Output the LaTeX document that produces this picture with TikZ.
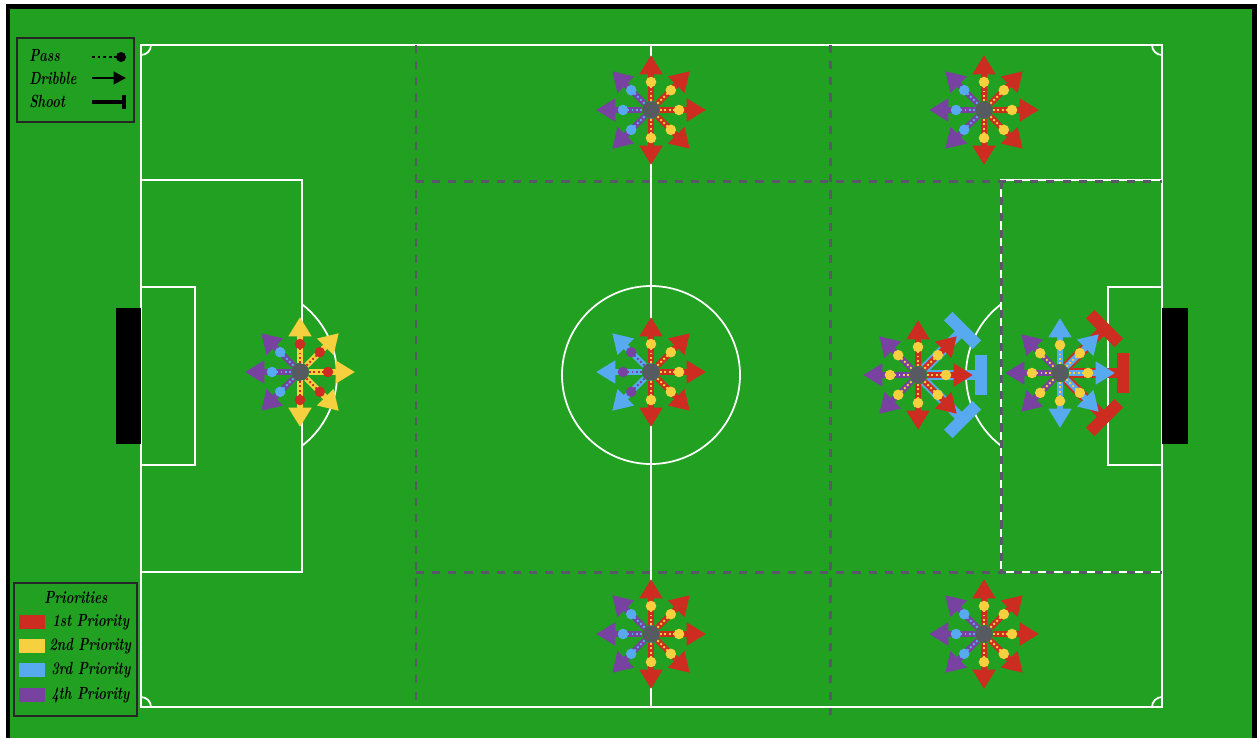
\documentclass[tikz,border=0pt]{standalone}
\usepackage{tikz}
\usetikzlibrary{arrows.meta}
\definecolor{pitch}{RGB}{33,160,33}
\definecolor{prRed}{RGB}{205,45,32}
\definecolor{prYellow}{RGB}{246,208,62}
\definecolor{prBlue}{RGB}{88,170,240}
\definecolor{prPurple}{RGB}{120,66,160}
\definecolor{playerGray}{RGB}{88,90,98}
\definecolor{zoneGray}{RGB}{88,88,104}

\begin{document}
\begin{tikzpicture}[x=0.02cm, y=-0.02cm,
  fieldline/.style={white, line width=1pt},
  zoneline/.style={zoneGray, line width=1.7pt, dash pattern=on 4.6pt off 4.6pt},
  player/.style={circle, fill=playerGray, minimum size=10pt, inner sep=0pt},
  dribble/.style={line width=3.4pt, -{Triangle[length=11pt, width=12.5pt]}},
  pass/.style={line width=1.1pt, dash pattern=on 1.1pt off 1.3pt},
  passdot/.style={circle, minimum size=6pt, inner sep=0pt},
  shoot/.style={line width=5.5pt},
  shootbar/.style={rectangle, minimum width=6.8pt, minimum height=23pt, inner sep=0pt},
  legendbox/.style={draw=black!85, line width=1.4pt},
  legendtext/.style={font=\bfseries\itshape\fontsize{10}{12}\selectfont, inner sep=0pt,
    xscale=0.74, transform shape}]
  % one option of a player: dribble arrow with the pass under it
  \def\playMove#1#2#3#4{%
    \draw[dribble, #3] (#1) -- +(#2:55);
    \draw[pass, #4] (#1) -- +(#2:28) node[passdot, fill=#4] {};
  }
  \def\playShot#1#2#3{%
    \draw[shoot, #3] (#1) -- node[pos=1, sloped, shootbar, fill=#3] {} +(#2:63);
  }

  \useasboundingbox (0,0) rectangle (1257,738);
  \fill[white] (0,0) rectangle (1257,738);
  \fill[black] (6,4) rectangle (1257,738);
  \fill[pitch] (10,9) rectangle (1252,738);

  % pitch markings
  \draw[fieldline] (141,45) rectangle (1162,707);
  \draw[fieldline] (651,45) -- (651,707);
  \draw[fieldline] (651,375) circle (89);
  \draw[fieldline] (141,180) rectangle (302,572);
  \draw[fieldline] (141,287) rectangle (195,465);
  \draw[fieldline] (1001,180) rectangle (1162,572);
  \draw[fieldline] (1108,287) rectangle (1162,465);
  \draw[fieldline] (248,375) ++(-52.6:89) arc[start angle=-52.6, end angle=52.6, radius=89];
  \draw[fieldline] (1055,375) ++(127.4:89) arc[start angle=127.4, end angle=232.6, radius=89];
  \draw[fieldline] (151,45) arc[start angle=0, end angle=90, radius=10];
  \draw[fieldline] (1162,55) arc[start angle=90, end angle=180, radius=10];
  \draw[fieldline] (141,697) arc[start angle=270, end angle=360, radius=10];
  \draw[fieldline] (1152,707) arc[start angle=180, end angle=270, radius=10];
  \fill[black] (116,308) rectangle (141,444);
  \fill[black] (1162,308) rectangle (1188,444);

  % zones
  \draw[zoneline] (416,45) -- (416,707);
  \draw[zoneline] (830,45) -- (830,715);
  \draw[zoneline] (416,181) -- (1162,181);
  \draw[zoneline] (416,572) -- (1162,572);
  \draw[zoneline] (1001,181) -- (1001,572);

  % players
  \node[player] (topMid) at (651,110) {};
  \node[player] (topRight) at (984,110) {};
  \node[player] (botMid) at (651,634) {};
  \node[player] (botRight) at (984,634) {};
  \node[player] (left) at (300,372) {};
  \node[player] (mid) at (651,372) {};
  \node[player] (rightA) at (918,375) {};
  \node[player] (rightB) at (1060,373) {};

  \foreach \p in {topMid, topRight, botMid, botRight} {
    \foreach \a in {270,315,0,45,90} {\playMove{\p}{\a}{prRed}{prYellow}}
    \foreach \a in {135,180,225} {\playMove{\p}{\a}{prPurple}{prBlue}}
  }
  \foreach \a in {270,315,0,45,90} {\playMove{left}{\a}{prYellow}{prRed}}
  \foreach \a in {135,180,225} {\playMove{left}{\a}{prPurple}{prBlue}}
  \foreach \a in {270,315,0,45,90} {\playMove{mid}{\a}{prRed}{prYellow}}
  \foreach \a in {135,180,225} {\playMove{mid}{\a}{prBlue}{prPurple}}

  \foreach \a in {315,0,45} {\playShot{rightA}{\a}{prBlue}}
  \foreach \a in {270,315,0,45,90} {\playMove{rightA}{\a}{prRed}{prYellow}}
  \foreach \a in {135,180,225} {\playMove{rightA}{\a}{prPurple}{prYellow}}
  \foreach \a in {315,0,45} {\playShot{rightB}{\a}{prRed}}
  \foreach \a in {270,315,0,45,90} {\playMove{rightB}{\a}{prBlue}{prYellow}}
  \foreach \a in {135,180,225} {\playMove{rightB}{\a}{prPurple}{prYellow}}

  % legend: actions
  \draw[legendbox] (17,38) rectangle (134,122);
  \node[legendtext, anchor=west] (passTxt) at (29,56) {Pass};
  \node[legendtext, anchor=west] (dribbleTxt) at (29,78) {Dribble};
  \node[legendtext, anchor=west] (shootTxt) at (29,101) {Shoot};
  \draw[black, line width=1.5pt, dash pattern=on 1.5pt off 1.7pt] (92,57) -- (117,57);
  \fill[black] (121,57) circle (5);
  \draw[black, line width=1.6pt, -{Triangle[length=7pt, width=7pt]}] (92,78) -- (126,78);
  \draw[black, line width=1.8pt] (92,102) -- (124,102);
  \draw[black, line width=2pt] (124,95) -- (124,109);

  % legend: priorities
  \draw[legendbox] (14,583) rectangle (137,716);
  \node[legendtext] (prioTitle) at (76,598) {Priorities};
  \fill[prRed] (19,615) rectangle (45,629);
  \fill[prYellow] (19,639) rectangle (45,653);
  \fill[prBlue] (19,663) rectangle (45,677);
  \fill[prPurple] (19,688) rectangle (45,702);
  \node[legendtext, anchor=west] (prioOne) at (52,622) {1st Priority};
  \node[legendtext, anchor=west] (prioTwo) at (49,646) {2nd Priority};
  \node[legendtext, anchor=west] (prioThree) at (51,670) {3rd Priority};
  \node[legendtext, anchor=west] (prioFour) at (51,695) {4th Priority};
\end{tikzpicture}
\end{document}
